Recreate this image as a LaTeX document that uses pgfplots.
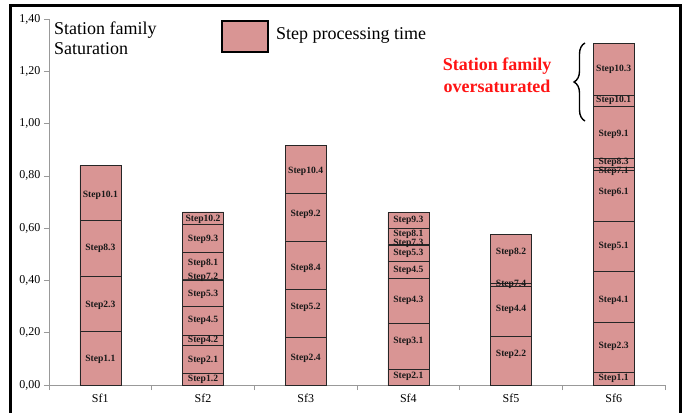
\documentclass[border=0pt]{standalone}
\usepackage{fontspec}
\setmainfont{Liberation Serif}
\usepackage{pgfplots}
\usepackage{pgfplotstable}
\pgfplotsset{compat=1.18}
\usetikzlibrary{decorations.pathreplacing}
\definecolor{barfill}{RGB}{217,149,148}
\definecolor{redtxt}{RGB}{255,20,20}

\pgfplotstableread{
x L1 L2 L3 L4 L5 L6 L7 L8 L9 L10
0 0.207 0.210 0.212 0.210 0 0 0 0 0 0
1 0.045 0.105 0.042 0.108 0.102 0.004 0.103 0.105 0.048 0
2 0.183 0.184 0.184 0.183 0.183 0 0 0 0 0
3 0.060 0.176 0.172 0.064 0.061 0.007 0.059 0.060 0 0
4 0.186 0.193 0.010 0.188 0 0 0 0 0 0
5 0.049 0.189 0.197 0.192 0.195 0.011 0.034 0.198 0.044 0.198
}\segdata

\pgfplotstableread{
x y label
0 0.100 Step1.1
0 0.305 Step2.3
0 0.524 Step8.3
0 0.725 Step10.1
1 0.020 Step1.2
1 0.096 Step2.1
1 0.171 Step4.2
1 0.246 Step4.5
1 0.348 Step5.3
1 0.413 Step7.2
1 0.465 Step8.1
1 0.557 Step9.3
1 0.633 Step10.2
2 0.102 Step2.4
2 0.296 Step5.2
2 0.448 Step8.4
2 0.654 Step9.2
2 0.816 Step10.4
3 0.032 Step2.1
3 0.166 Step3.1
3 0.325 Step4.3
3 0.437 Step4.5
3 0.503 Step5.3
3 0.542 Step7.3
3 0.577 Step8.1
3 0.631 Step9.3
4 0.118 Step2.2
4 0.290 Step4.4
4 0.386 Step7.4
4 0.508 Step8.2
5 0.026 Step1.1
5 0.147 Step2.3
5 0.325 Step4.1
5 0.529 Step5.1
5 0.736 Step6.1
5 0.819 Step7.1
5 0.850 Step8.3
5 0.959 Step9.1
5 1.090 Step10.1
5 1.208 Step10.3
}\labdata

\begin{document}
\begin{tikzpicture}[x=1pt,y=1pt]
\useasboundingbox (0,0) rectangle (687,412);
\begin{axis}[
  at={(49pt,27pt)}, anchor=south west, scale only axis,
  width=616pt, height=366pt,
  ybar stacked, bar width=41pt,
  xmin=-0.5, xmax=5.5, ymin=0, ymax=1.4,
  axis x line*=bottom, axis y line*=left,
  axis line style={-, draw=gray!80, line width=0.6pt},
  xtick={-0.5,0.5,1.5,2.5,3.5,4.5,5.5},
  xticklabels={},
  extra x ticks={0,1,2,3,4,5},
  extra x tick labels={Sf1,Sf2,Sf3,Sf4,Sf5,Sf6},
  extra x tick style={major tick length=0pt},
  ytick={0,0.2,0.4,0.6,0.8,1.0,1.2,1.4},
  tick align=outside,
  major tick length=5pt,
  tick style={draw=gray!80, line width=0.6pt},
  /pgf/number format/assume math mode=true,
  yticklabel style={/pgf/number format/.cd, fixed, fixed zerofill, precision=2, use comma},
  tick label style={font=\fontsize{12}{14}\selectfont},
  xticklabel style={yshift=-6pt},
]
\pgfplotsinvokeforeach{1,...,10}{
  \addplot[fill=barfill, draw=black!85, line width=0.6pt] table[x=x, y=L#1] {\segdata};
}
\end{axis}
\begin{axis}[
  at={(49pt,27pt)}, anchor=south west, scale only axis,
  width=616pt, height=366pt,
  xmin=-0.5, xmax=5.5, ymin=0, ymax=1.4, hide axis,
]
\addplot[draw=none, mark=none, nodes near coords, point meta=explicit symbolic,
  every node near coord/.append style={anchor=center, inner sep=0pt, font=\bfseries\fontsize{9.6}{10}\selectfont, text=black!90}]
  table[x=x, y=y, meta=label] {\labdata};
\end{axis}
% titles and legend
\node[anchor=north west, align=left, font=\fontsize{18}{20}\selectfont, inner sep=0pt] at (54,390) {Station family\\Saturation};
\draw[line width=1.6pt, fill=barfill] (222,360) rectangle (268,391);
\node[anchor=west, font=\fontsize{18}{20}\selectfont, inner sep=0pt] at (276,377) {Step processing time};
\node[align=center, font=\bfseries\fontsize{18}{22}\selectfont, text=redtxt, inner sep=0pt] at (497,337) {Station family\\oversaturated};
\draw[decorate, decoration={brace, amplitude=11pt}, line width=1.4pt] (585,291) -- (585,369);
% outer frame
\draw[line width=3pt] (10,-10) -- (10,406) -- (680,406) -- (680,-10);
\end{tikzpicture}
\end{document}
